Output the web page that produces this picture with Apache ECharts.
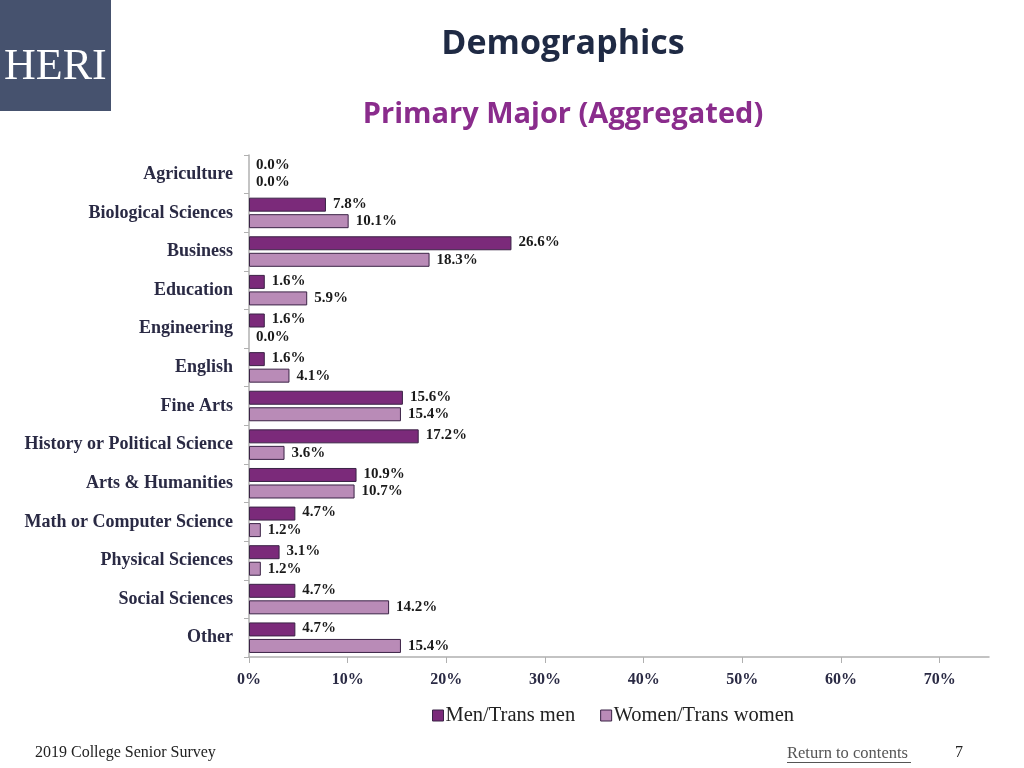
<!DOCTYPE html>
<html><head><meta charset="utf-8">
<script src="https://cdn.jsdelivr.net/npm/echarts@6/dist/echarts.min.js"></script>
<style>html,body{margin:0;padding:0;background:#fff}#c{width:1024px;height:768px}</style>
</head><body><div id="c"></div>
<script>
const categories = ["Agriculture","Biological Sciences","Business","Education","Engineering","English","Fine Arts","History or Political Science","Arts & Humanities","Math or Computer Science","Physical Sciences","Social Sciences","Other"];
const menValues = [0.0,7.8,26.6,1.6,1.6,1.6,15.6,17.2,10.9,4.7,3.1,4.7,4.7];
const womenValues = [0.0,10.1,18.3,5.9,0.0,4.1,15.4,3.6,10.7,1.2,1.2,14.2,15.4];
const seriesNames = ["Men/Trans men","Women/Trans women"];

const serif = "'Liberation Serif', 'DejaVu Serif', serif";
const sans = "'Open Sans', 'Noto Sans', sans-serif";
const chart = echarts.init(document.getElementById('c'));
const lbl = {show:true, position:'right', distance:7, fontFamily:serif, fontWeight:'bold', fontSize:15, color:'#1a1a1a', formatter: p => p.value.toFixed(1)+'%'};
const toData = arr => arr.map(v => v === 0 ? {value:v, itemStyle:{borderWidth:0}} : v);
chart.setOption({
  animation:false,
  title:[
    {text:'Demographics', left:558, top:22, textAlign:'center', textStyle:{fontFamily:sans, fontWeight:'bold', fontSize:34, color:'#1f2a44'}},
    {text:'Primary Major (Aggregated)', left:558, top:95, textAlign:'center', textStyle:{fontFamily:sans, fontWeight:'bold', fontSize:29, color:'#8a2c8c'}}
  ],
  grid:{left:249, right:35, top:155, bottom:111, containLabel:false},
  legend:{
    data:seriesNames, left:427, top:700, itemWidth:11, itemHeight:11, itemGap:25,
    itemStyle:{borderColor:'#3b2346', borderWidth:1},
    textStyle:{fontFamily:serif, fontSize:20.5, color:'#222', padding:[0,0,0,-3]}, icon:'rect'
  },
  xAxis:{
    type:'value', min:0, max:75, interval:10,
    axisLine:{show:true, lineStyle:{color:'#b0b0b0', width:1.5}},
    axisTick:{show:true, length:6, lineStyle:{color:'#b0b0b0'}},
    splitLine:{show:false},
    axisLabel:{showMaxLabel:false, formatter:v=>v+'%', fontFamily:serif, fontWeight:'bold', fontSize:16, color:'#2a2a44', margin:15}
  },
  yAxis:{
    type:'category', data:categories, inverse:true,
    axisLine:{show:true, lineStyle:{color:'#b0b0b0', width:1.5}},
    axisTick:{show:true, length:5, lineStyle:{color:'#b0b0b0'}},
    axisLabel:{fontFamily:serif, fontWeight:'bold', fontSize:18, color:'#2a2a44', margin:16}
  },
  series:[
    {name:seriesNames[0], type:'bar', data:toData(menValues), barWidth:14, barGap:'18%',
     itemStyle:{color:'#7b2a7a', borderColor:'#3b2346', borderWidth:1}, label:Object.assign({}, lbl, {offset:[0,-1]})},
    {name:seriesNames[1], type:'bar', data:toData(womenValues), barWidth:14,
     itemStyle:{color:'#b98bb7', borderColor:'#3b2346', borderWidth:1}, label:Object.assign({}, lbl, {offset:[0,0]})}
  ],
  graphic:[
    {type:'rect', shape:{x:0,y:0,width:111,height:111}, style:{fill:'#46526e'}},
    {type:'text', left:4, top:45, style:{text:'HERI', fontFamily:serif, fontSize:44, fill:'#ffffff'}},
    {type:'text', left:35, top:745, style:{text:'2019 College Senior Survey', fontFamily:serif, fontSize:16, fill:'#222'}},
    {type:'text', left:787, top:745, style:{text:'Return to contents', fontFamily:serif, fontSize:16.5, fill:'#555'}},
    {type:'line', shape:{x1:787,y1:762.5,x2:911,y2:762.5}, style:{stroke:'#555', lineWidth:1}},
    {type:'text', left:955, top:745, style:{text:'7', fontFamily:serif, fontSize:16, fill:'#222'}}
  ]
});
</script></body></html>
